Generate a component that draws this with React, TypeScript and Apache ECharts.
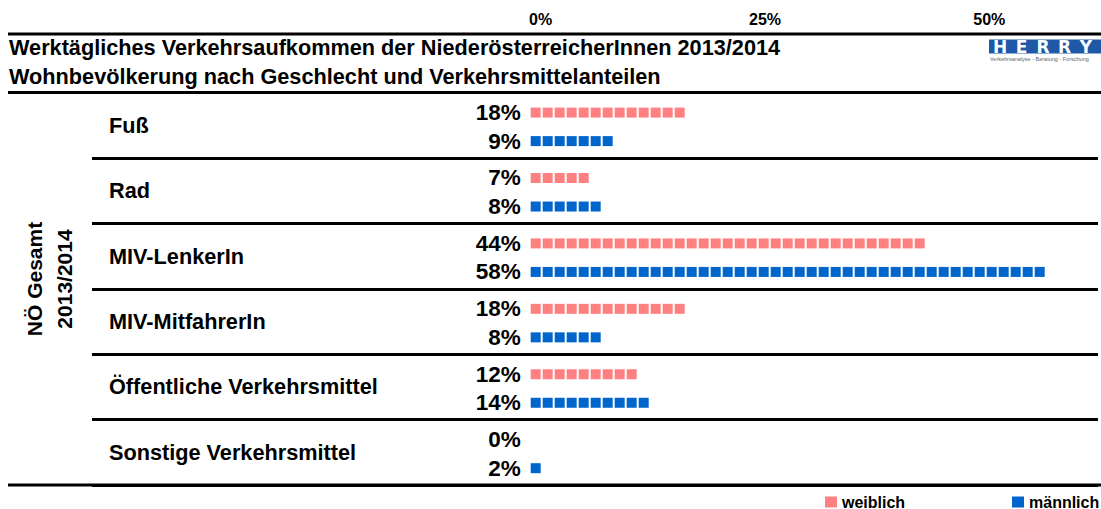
import React, { useEffect, useRef } from 'react';
import * as echarts from 'echarts';

// ---------- data ----------
const categories = [
  'Fuß',
  'Rad',
  'MIV-LenkerIn',
  'MIV-MitfahrerIn',
  'Öffentliche Verkehrsmittel',
  'Sonstige Verkehrsmittel',
];
const weiblich = [18, 7, 44, 18, 12, 0];
const maennlich = [9, 8, 58, 8, 14, 2];
const seriesNames = ['weiblich', 'männlich'];
const tickValues = [0, 25, 50];
const tickLabels = ['0%', '25%', '50%'];
const titleLines = [
  'Werktägliches Verkehrsaufkommen der NiederösterreicherInnen 2013/2014',
  'Wohnbevölkerung nach Geschlecht und Verkehrsmittelanteilen',
];
const sideLabels = ['NÖ Gesamt', '2013/2014'];
const logoText = 'HERRY';
const logoSub = 'Verkehrsanalyse - Beratung - Forschung';

// ---------- style ----------
const PINK = '#FF8080';
const BLUE = '#0066CC';
const FONT = '"Liberation Sans", Arial, Helvetica, sans-serif';
const SQ = 10;
const PITCH = 12;
const W = 1101;
const H = 509;

function makeRender(color: string, offset: number) {
  return (params: any, api: any) => {
    const v = api.value(0);
    const idx = api.value(1);
    const p0 = api.coord([0, idx]);
    const p1 = api.coord([v, idx]);
    const band = api.size([0, 1])[1];
    const cy = p0[1] + offset * band;
    const n = Math.round((p1[0] - p0[0]) / PITCH);
    const children: any[] = [];
    for (let i = 0; i < n; i++) {
      children.push({
        type: 'rect',
        shape: { x: p0[0] + i * PITCH, y: cy - SQ / 2, width: SQ, height: SQ },
        style: { fill: color },
      });
    }
    children.push({
      type: 'text',
      x: p0[0] - 10,
      y: cy,
      style: {
        text: v + '%',
        align: 'right',
        verticalAlign: 'middle',
        fontSize: 22.5,
        fontWeight: 'bold',
        fontFamily: FONT,
        fill: '#000',
      },
    });
    return { type: 'group', children };
  };
}

export default function App() {
  const ref = useRef<HTMLDivElement>(null);
  useEffect(() => {
    if (!ref.current) return;
    const chart = echarts.init(ref.current, undefined, { renderer: 'svg' });
    const k = 8.93; // px per percent for the bars
    const gridLeft = 92;
    const zeroX = 532;
    const min0 = -(zeroX - gridLeft) / k;
    const max0 = (W - zeroX) / k;

    const lines = [34, 92.5, 485].map((y) => ({
      type: 'line',
      shape: { x1: 8, y1: y, x2: W, y2: y },
      style: { stroke: '#000', lineWidth: 3 },
      z: 10,
    }));

    const logoLetters = logoText.split('').map((ch, i) => ({
      type: 'text',
      x: 1000 + i * 21.5,
      y: 46.5,
      style: {
        text: ch,
        align: 'center',
        verticalAlign: 'middle',
        fontSize: 17,
        fontWeight: 'bold',
        fontFamily: '"DejaVu Sans", Arial, sans-serif',
        fill: '#fff',
      },
      z: 11,
    }));

    const legendCommon = {
      top: 494,
      padding: 0,
      icon: 'rect',
      itemWidth: 12,
      itemHeight: 11,
      itemGap: 0,
      textStyle: { fontSize: 16, fontWeight: 'bold', fontFamily: FONT, color: '#000', lineHeight: 16 },
    };

    const option: any = {
      animation: false,
      backgroundColor: '#fff',
      grid: { left: gridLeft, right: 0, top: 92.5, bottom: H - 485, containLabel: false },
      xAxis: [
        {
          type: 'value',
          min: min0,
          max: max0,
          show: false,
        },
        {
          type: 'value',
          position: 'top',
          min: -50,
          max: -50 + (W - gridLeft) / 9,
          interval: 25,
          axisLine: { show: false },
          axisTick: { show: false },
          splitLine: { show: false },
          axisLabel: {
            margin: 73,
            verticalAlign: 'middle',
            fontSize: 16,
            fontWeight: 'bold',
            fontFamily: FONT,
            color: '#000',
            showMinLabel: true,
            showMaxLabel: true,
            formatter: (v: number) => {
              const i = tickValues.indexOf(Math.round(v * 1000) / 1000);
              return i >= 0 ? tickLabels[i] : '';
            },
          },
        },
      ],
      yAxis: {
        type: 'category',
        data: categories,
        inverse: true,
        axisLine: { show: false },
        axisTick: { show: false },
        splitLine: { show: true, lineStyle: { color: '#000', width: 3 } },
        axisLabel: {
          align: 'left',
          margin: -17,
          fontSize: 21.7,
          fontWeight: 'bold',
          fontFamily: FONT,
          color: '#000',
        },
      },
      legend: [
        { ...legendCommon, data: [seriesNames[0]], left: 825 },
        { ...legendCommon, data: [seriesNames[1]], left: 1012 },
      ],
      series: [
        {
          name: seriesNames[0],
          type: 'custom',
          xAxisIndex: 0,
          clip: false,
          itemStyle: { color: PINK },
          encode: { x: 0, y: 1 },
          data: weiblich.map((v, i) => [v, i]),
          renderItem: makeRender(PINK, -0.193),
        },
        {
          name: seriesNames[1],
          type: 'custom',
          xAxisIndex: 0,
          clip: false,
          itemStyle: { color: BLUE },
          encode: { x: 0, y: 1 },
          data: maennlich.map((v, i) => [v, i]),
          renderItem: makeRender(BLUE, 0.243),
        },
      ],
      graphic: [
        ...lines,
        ...titleLines.map((t, i) => ({
          type: 'text',
          x: 9,
          y: 47.5 + i * 28.5,
          style: {
            text: t,
            verticalAlign: 'middle',
            fontSize: 21.7,
            fontWeight: 'bold',
            fontFamily: FONT,
            fill: '#000',
          },
        })),
        ...sideLabels.map((t, i) => ({
          type: 'text',
          x: 34 + i * 30,
          y: 279,
          rotation: Math.PI / 2,
          style: {
            text: t,
            align: 'center',
            verticalAlign: 'middle',
            fontSize: 21,
            fontWeight: 'bold',
            fontFamily: FONT,
            fill: '#000',
          },
        })),
        {
          type: 'rect',
          shape: { x: 989, y: 39.5, width: W - 989, height: 14 },
          style: { fill: '#1f58a6' },
          z: 10,
        },
        ...logoLetters,
        {
          type: 'text',
          x: 990,
          y: 59,
          style: {
            text: logoSub,
            verticalAlign: 'middle',
            fontSize: 5.5,
            fontFamily: FONT,
            fill: '#666',
          },
        },
      ],
    };
    chart.setOption(option);
    return () => chart.dispose();
  }, []);
  return (
    <div
      ref={ref}
      style={{ position: 'fixed', left: 0, top: 0, width: W, height: H, background: '#fff' }}
    />
  );
}
